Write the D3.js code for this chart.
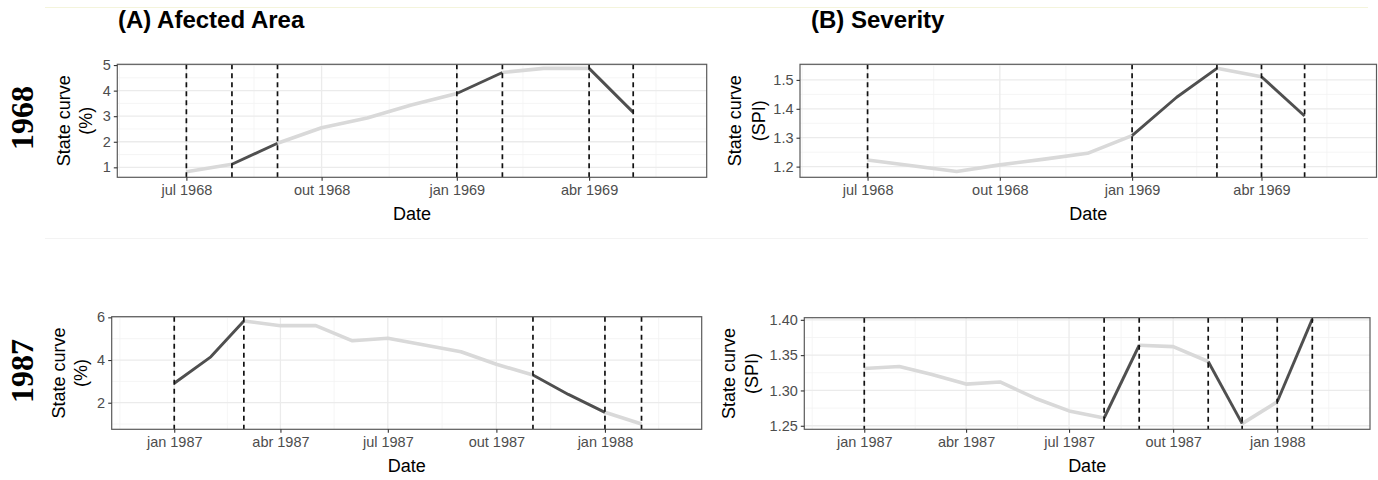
<!DOCTYPE html>
<html><head><meta charset="utf-8">
<script src="https://cdn.jsdelivr.net/npm/d3@7"></script>
<style>body{margin:0;background:#fff} svg{display:block;font-family:"Liberation Sans",Arial,sans-serif}</style>
</head><body><svg id="c" width="1378" height="480"></svg>
<script>
// ---------- data ----------
const months1968 = ["1968-07-01","1968-08-01","1968-09-01","1968-10-01","1968-11-01","1968-12-01",
                    "1969-01-01","1969-02-01","1969-03-01","1969-04-01","1969-05-01"];
const area1968     = [0.83, 1.12, 1.94, 2.55, 2.93, 3.44, 3.89, 4.71, 4.87, 4.87, 3.15];
const areaDark1968 = [0, 1, 0, 0, 0, 0, 1, 0, 0, 1];           // per segment
const areaBreaks1968 = ["1968-07-01","1968-08-01","1968-09-01","1969-01-01","1969-02-01","1969-04-01","1969-05-01"];

const sev1968     = [1.223, 1.203, 1.183, 1.206, 1.226, 1.246, 1.307, 1.440, 1.540, 1.511, 1.375];
const sevDark1968 = [0, 0, 0, 0, 0, 0, 1, 1, 0, 1];
const sevBreaks1968 = ["1968-07-01","1969-01-01","1969-03-01","1969-04-01","1969-05-01"];

const months1987 = ["1987-01-01","1987-02-01","1987-03-01","1987-04-01","1987-05-01","1987-06-01","1987-07-01",
                    "1987-08-01","1987-09-01","1987-10-01","1987-11-01","1987-12-01","1988-01-01","1988-02-01"];
const area1987     = [2.91, 4.15, 5.83, 5.61, 5.61, 4.90, 5.02, 4.70, 4.39, 3.80, 3.30, 2.39, 1.55, 1.00];
const areaDark1987 = [1, 1, 0, 0, 0, 0, 0, 0, 0, 0, 1, 1, 0];
const areaBreaks1987 = ["1987-01-01","1987-03-01","1987-11-01","1988-01-01","1988-02-01"];

const sev1987     = [1.331, 1.334, 1.323, 1.309, 1.312, 1.289, 1.271, 1.261, 1.364, 1.362, 1.341, 1.253, 1.284, 1.401];
const sevDark1987 = [0, 0, 0, 0, 0, 0, 0, 1, 0, 0, 1, 0, 1];
const sevBreaks1987 = ["1987-01-01","1987-08-01","1987-09-01","1987-11-01","1987-12-01","1988-01-01","1988-02-01"];

const xTicks1968 = ["1968-07-01","1968-10-01","1969-01-01","1969-04-01"];
const xLabels1968 = ["jul 1968","out 1968","jan 1969","abr 1969"];
const xTicks1987 = ["1987-01-01","1987-04-01","1987-07-01","1987-10-01","1988-01-01"];
const xLabels1987 = ["jan 1987","abr 1987","jul 1987","out 1987","jan 1988"];
const xDomain1968 = ["1968-05-15","1969-06-20"];
const xDomain1987 = ["1986-11-09","1988-03-23"];

const yTicksArea1968 = [1, 2, 3, 4, 5];
const yTicksSev1968  = [1.2, 1.3, 1.4, 1.5];
const yTicksArea1987 = [2, 4, 6];
const yTicksSev1987  = [1.25, 1.30, 1.35, 1.40];

const titles = ["(A) Afected Area", "(B) Severity"];
const rowLabels = ["1968", "1987"];

// ---------- drawing ----------
const svg = d3.select("#c");
const P = s => new Date(s + "T00:00:00Z");

// faint separator lines
svg.append("line").attr("x1",45).attr("x2",1368).attr("y1",7.5).attr("y2",7.5)
   .attr("stroke","#f4f4dc").attr("stroke-width",1);
svg.append("line").attr("x1",45).attr("x2",1368).attr("y1",238.5).attr("y2",238.5)
   .attr("stroke","#f3f3f3").attr("stroke-width",1);

function panel(o){
  const g = svg.append("g");
  const x = d3.scaleUtc().domain(o.xDomain.map(P)).range([o.left, o.right]);
  const y = d3.scaleLinear().domain(o.yDomain).range([o.bottom, o.top]);
  const clip = "clip" + Math.round(o.left) + "_" + Math.round(o.top);
  g.append("clipPath").attr("id", clip).append("rect")
   .attr("x",o.left).attr("y",o.top).attr("width",o.right-o.left).attr("height",o.bottom-o.top);
  const inner = g.append("g").attr("clip-path","url(#"+clip+")");

  // minor grid x
  const xt = o.xTicks.map(P);
  const ext = [d3.utcMonth.offset(xt[0],-3), ...xt, d3.utcMonth.offset(xt[xt.length-1],3)];
  const xMinor = d3.pairs(ext).map(([a,b]) => new Date((+a + +b)/2));
  inner.selectAll(".xmin").data(xMinor).join("line")
    .attr("x1",d=>x(d)).attr("x2",d=>x(d)).attr("y1",o.top).attr("y2",o.bottom)
    .attr("stroke","#f2f2f2").attr("stroke-width",0.8);
  // minor grid y
  const yt = o.yTicks, st = yt[1]-yt[0];
  const yExt = [yt[0]-st, ...yt, yt[yt.length-1]+st];
  const yMinor = d3.pairs(yExt).map(([a,b]) => (a+b)/2);
  inner.selectAll(".ymin").data(yMinor).join("line")
    .attr("x1",o.left).attr("x2",o.right).attr("y1",d=>y(d)).attr("y2",d=>y(d))
    .attr("stroke","#f2f2f2").attr("stroke-width",0.8);
  // major grid
  inner.selectAll(".xmaj").data(xt).join("line")
    .attr("x1",d=>x(d)).attr("x2",d=>x(d)).attr("y1",o.top).attr("y2",o.bottom)
    .attr("stroke","#ebebeb").attr("stroke-width",1.3);
  inner.selectAll(".ymaj").data(yt).join("line")
    .attr("x1",o.left).attr("x2",o.right).attr("y1",d=>y(d)).attr("y2",d=>y(d))
    .attr("stroke","#ebebeb").attr("stroke-width",1.3);

  // series in runs
  const pts = o.dates.map((d,i)=>({d:P(d), v:o.values[i]}));
  const line = d3.line().x(p=>x(p.d)).y(p=>y(p.v));
  const runs = [];
  o.dark.forEach((f,i)=>{
    const last = runs[runs.length-1];
    if (last && last.f===f) last.pts.push(pts[i+1]);
    else runs.push({f, pts:[pts[i], pts[i+1]]});
  });
  inner.selectAll(".light").data(runs.filter(r=>!r.f)).join("path")
    .attr("d",r=>line(r.pts)).attr("fill","none").attr("stroke","#d9d9d9")
    .attr("stroke-width",3.6).attr("stroke-linejoin","round");
  inner.selectAll(".dark").data(runs.filter(r=>r.f)).join("path")
    .attr("d",r=>line(r.pts)).attr("fill","none").attr("stroke","#4f4f4f")
    .attr("stroke-width",2.9).attr("stroke-linejoin","round");

  // dashed breaks
  inner.selectAll(".brk").data(o.breaks.map(P)).join("line")
    .attr("x1",d=>x(d)).attr("x2",d=>x(d)).attr("y1",o.top).attr("y2",o.bottom)
    .attr("stroke","#111").attr("stroke-width",1.7).attr("stroke-dasharray","5,4");

  // border
  g.append("rect").attr("x",o.left).attr("y",o.top).attr("width",o.right-o.left).attr("height",o.bottom-o.top)
   .attr("fill","none").attr("stroke","#5a5a5a").attr("stroke-width",1.2);

  // axes
  const xa = g.append("g").attr("transform",`translate(0,${o.bottom})`)
    .call(d3.axisBottom(x).tickValues(xt).tickSize(3.5).tickPadding(4)
      .tickFormat((d,i)=>o.xLabels[i]));
  const ya = g.append("g").attr("transform",`translate(${o.left},0)`)
    .call(d3.axisLeft(y).tickValues(yt).tickSize(3.5).tickPadding(3).tickFormat(o.yFmt));
  [xa,ya].forEach(a=>{
    a.select(".domain").remove();
    a.selectAll(".tick line").attr("stroke","#333").attr("stroke-width",1.1);
    a.selectAll(".tick text").attr("fill","#4d4d4d").attr("font-size","14.5px")
     .attr("font-family","Liberation Sans, Arial, sans-serif");
  });

  // axis titles
  g.append("text").attr("x",(o.left+o.right)/2).attr("y",o.bottom+42.5)
   .attr("text-anchor","middle").attr("font-size","18px").attr("fill","#000").text("Date");
  const yc = (o.top+o.bottom)/2;
  o.yTitle.forEach((t,i)=>{
    g.append("text").attr("transform",`translate(${o.yTitleX[i]},${yc}) rotate(-90)`)
     .attr("text-anchor","middle").attr("font-size","18px").attr("fill","#000").text(t);
  });
}

panel({left:117.3,right:706.7,top:64.3,bottom:177.3,xDomain:xDomain1968,yDomain:[0.61,5.03],
  dates:months1968,values:area1968,dark:areaDark1968,breaks:areaBreaks1968,
  xTicks:xTicks1968,xLabels:xLabels1968,yTicks:yTicksArea1968,yFmt:d3.format("d"),
  yTitle:["State curve","(%)"],yTitleX:[70,92]});
panel({left:800,right:1376.5,top:64.3,bottom:177.3,xDomain:xDomain1968,yDomain:[1.163,1.554],
  dates:months1968,values:sev1968,dark:sevDark1968,breaks:sevBreaks1968,
  xTicks:xTicks1968,xLabels:xLabels1968,yTicks:yTicksSev1968,yFmt:d3.format(".1f"),
  yTitle:["State curve","(SPI)"],yTitleX:[741,765]});
panel({left:111.7,right:701.7,top:316.7,bottom:429.3,xDomain:xDomain1987,yDomain:[0.755,6.03],
  dates:months1987,values:area1987,dark:areaDark1987,breaks:areaBreaks1987,
  xTicks:xTicks1987,xLabels:xLabels1987,yTicks:yTicksArea1987,yFmt:d3.format("d"),
  yTitle:["State curve","(%)"],yTitleX:[65,87]});
panel({left:804.3,right:1370,top:317.7,bottom:429.3,xDomain:xDomain1987,yDomain:[1.245,1.403],
  dates:months1987,values:sev1987,dark:sevDark1987,breaks:sevBreaks1987,
  xTicks:xTicks1987,xLabels:xLabels1987,yTicks:yTicksSev1987,yFmt:d3.format(".2f"),
  yTitle:["State curve","(SPI)"],yTitleX:[735,758]});

// titles
svg.append("text").attr("x",118).attr("y",28).attr("font-size","24px").attr("font-weight","bold").text(titles[0]);
svg.append("text").attr("x",811).attr("y",28).attr("font-size","24px").attr("font-weight","bold").text(titles[1]);
// row labels
[[33,118],[33,371]].forEach(([cx,cy],i)=>{
  svg.append("text").attr("transform",`translate(${cx},${cy}) rotate(-90)`)
    .attr("text-anchor","middle").attr("font-family","Liberation Serif, Times New Roman, serif")
    .attr("font-weight","bold").attr("font-size","32px").attr("fill","#000").text(rowLabels[i]);
});
</script>
</body></html>
